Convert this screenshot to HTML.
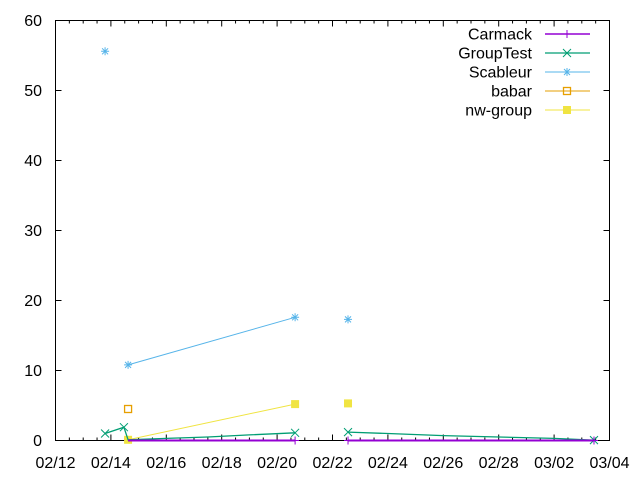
<!DOCTYPE html>
<html><head><meta charset="utf-8"><style>
body{margin:0;background:#fff}
svg{display:block;font-family:"Liberation Sans",sans-serif}
</style></head><body>
<svg id="chart" width="640" height="480" viewBox="0 0 640 480" xmlns="http://www.w3.org/2000/svg"></svg>
<script>
// x values = days after 02/12; null breaks the line
const xTickLabels = ["02/12","02/14","02/16","02/18","02/20","02/22","02/24","02/26","02/28","03/02","03/04"];
const yTickLabels = [0,10,20,30,40,50,60];
const seriesNames = ["Carmack","GroupTest","Scableur","babar","nw-group"];
const carmackX = [2.62, 8.65, null, 10.56, 19.44];
const carmackY = [0.0, 0.0, null, 0.0, 0.0];
const groupTestX = [1.79, 2.47, 2.62, 4.0, 5.5, 7.0, 8.65, null, 10.56, 12.0, 14.0, 16.0, 18.0, 19.44];
const groupTestY = [1.0, 1.9, 0.1, 0.3, 0.5, 0.8, 1.1, null, 1.2, 1.0, 0.7, 0.5, 0.3, 0.05];
const scableurX = [1.79, null, 2.62, 8.65, null, 10.56];
const scableurY = [55.6, null, 10.8, 17.6, null, 17.3];
const babarX = [2.62];
const babarY = [4.5];
const nwGroupX = [2.62, 8.65, null, 10.56];
const nwGroupY = [0.1, 5.2, null, 5.3];
const markerIdx = {Carmack:[1,3,4], GroupTest:[0,1,6,8,13], Scableur:[0,2,3,5], babar:[0], "nw-group":[0,1,3]};

const NS="http://www.w3.org/2000/svg";
const svg=document.getElementById('chart');
const L=55.5,R=609.5,T=20.5,B=440.5;
const xs=d=>L+(R-L)*d/20;
const ys=v=>B-(B-T)*v/60;
function el(tag,attrs,parent){const e=document.createElementNS(NS,tag);for(const k in attrs)e.setAttribute(k,attrs[k]);(parent||svg).appendChild(e);return e;}

for(let i=0;i<=40;i++){
  const x=xs(i/2), len=(i%4===0)?6:3;
  el('line',{x1:x,y1:B,x2:x,y2:B-len,stroke:'#000'});
  el('line',{x1:x,y1:T,x2:x,y2:T+len,stroke:'#000'});
}
xTickLabels.forEach((t,i)=>{
  const tx=el('text',{x:xs(i*2),y:468,'text-anchor':'middle','font-size':'16px',fill:'#000'});
  tx.textContent=t;
  
  
});
yTickLabels.forEach(v=>{
  const y=ys(v);
  el('line',{x1:L,y1:y,x2:L+6,y2:y,stroke:'#000'});
  el('line',{x1:R,y1:y,x2:R-6,y2:y,stroke:'#000'});
  const tx=el('text',{x:42,y:y+5.5,'text-anchor':'end','font-size':'16px',fill:'#000'});
  tx.textContent=v;
  
  
});
const border=el('rect',{x:L,y:T,width:R-L,height:B-T,fill:'none',stroke:'#000'});



function marker(type,x,y,c,g){
  if(type==='plus'){el('path',{d:`M${x-4},${y}h8M${x},${y-4}v8`,stroke:c,fill:'none'},g);}
  else if(type==='cross'){el('path',{d:`M${x-4},${y-4}l8,8M${x-4},${y+4}l8,-8`,stroke:c,fill:'none'},g);}
  else if(type==='star'){el('path',{d:`M${x-4},${y}h8M${x},${y-4}v8M${x-3},${y-3}l6,6M${x-3},${y+3}l6,-6`,stroke:c,fill:'none'},g);}
  else if(type==='box'){el('rect',{x:x-3.5,y:y-3.5,width:7,height:7,stroke:c,fill:'none','stroke-width':1.3},g);}
  else if(type==='fbox'){el('rect',{x:x-4,y:y-4,width:8,height:8,fill:c},g);}
}
const defs=[
  {n:'Carmack',X:carmackX,Y:carmackY,c:'#9400d3',m:'plus',w:2},
  {n:'GroupTest',X:groupTestX,Y:groupTestY,c:'#009e73',m:'cross',w:1.3},
  {n:'Scableur',X:scableurX,Y:scableurY,c:'#56b4e9',m:'star',w:1},
  {n:'babar',X:babarX,Y:babarY,c:'#e69f00',m:'box',w:1},
  {n:'nw-group',X:nwGroupX,Y:nwGroupY,c:'#f0e442',m:'fbox',w:1}
];
[...defs].reverse().forEach(s=>{
  const g=el('g',{});
  
  
  let d='',pen=false;
  s.X.forEach((x,i)=>{
    if(x===null){pen=false;return;}
    d+=(pen?'L':'M')+xs(x).toFixed(1)+','+ys(s.Y[i]).toFixed(1);pen=true;
  });
  el('path',{d:d,stroke:s.c,fill:'none','stroke-width':s.w},g);
  markerIdx[s.n].forEach(i=>marker(s.m,xs(s.X[i]),ys(s.Y[i]),s.c,g));
});
defs.forEach((s,i)=>{
  const y=34+i*19;
  const g=el('g',{});
  
  
  const t=el('text',{x:532,y:y+5.5,'text-anchor':'end','font-size':'16px',fill:'#000'},g);
  t.textContent=s.n;
  el('line',{x1:545,y1:y,x2:590,y2:y,stroke:s.c,'stroke-width':s.w>1.5?1.5:s.w},g);
  marker(s.m,567,y,s.c,g);
});
</script>
</body></html>
